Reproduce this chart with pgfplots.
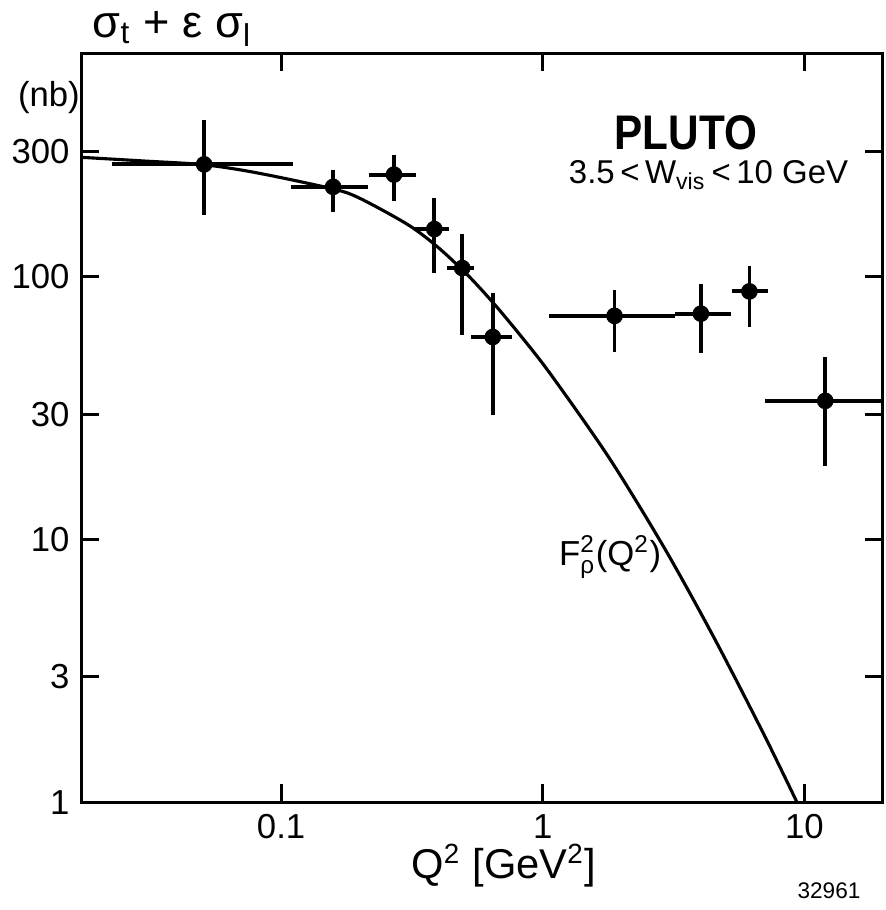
\documentclass[border=0pt]{standalone}
\usepackage{fontspec}
\setmainfont{Liberation Sans}
\usepackage{amsmath}
\usepackage{pgfplots}
\usepackage{pgfplotstable}
\pgfplotsset{compat=1.18}

% PLUTO points: Q2, sigma, and the ends of the bars
\pgfplotstableread{
x     y     xlo    xhi   ylo   yhi
0.0508 268  0.0226 0.111 172   396
0.158  220  0.109  0.215 177   255
0.270  245  0.217  0.329 195   291
0.385  152  0.321  0.438 103   200
0.492  108  0.430  0.544 60    146
0.644  59   0.530  0.764 29.8  87
1.88   71   1.06   3.21  51.9  89
4.02   72.4 3.21   5.26  51.2  93.8
6.16   88   5.29   7.25  64.3  110
12.0   33.7 7.06   25    19.1  49.6
}\pluto

% rho form factor curve
\pgfplotstableread{
x      y
0.0173 285
0.030  276
0.0508 267
0.0805 249
0.158  216
0.200  199
0.305  158
0.396  130
0.514  102
0.648  79.4
0.841  58.1
1.08   42.1
1.79   20.5
2.92   9.25
4.51   4.23
6.96   1.83
9.40   0.99
}\rhoff

\begin{document}
\begin{tikzpicture}
\begin{loglogaxis}[
  scale only axis, width=8.11cm, height=7.58cm,
  xmin=0.0173, xmax=19.9, ymin=1, ymax=708,
  xtick={0.1,1,10}, xticklabels={0.1,1,10},
  ytick={1,3,10,30,100,300}, yticklabels={1,3,10,30,100,300},
  xminorticks=false, yminorticks=false,
  tick align=inside, major tick length=0.18cm,
  axis line style={line width=0.9pt},
  every tick/.style={line width=0.8pt,black},
  tick label style={font=\fontsize{10}{12}\selectfont},
  /pgf/number format/assume math mode=true,
  clip mode=individual,
]
\addplot[line width=0.9pt, smooth, tension=0.5] table {\rhoff};
\addplot[only marks, mark=*, mark size=2.2pt,
  error bars/.cd, x dir=both, x explicit, y dir=both, y explicit,
  error mark=none, error bar style={line width=1.1pt}]
  table[x=x, y=y,
    x error plus expr=\thisrow{xhi}-\thisrow{x},
    x error minus expr=\thisrow{x}-\thisrow{xlo},
    y error plus expr=\thisrow{yhi}-\thisrow{y},
    y error minus expr=\thisrow{y}-\thisrow{ylo}] {\pluto};

\node[font=\fontsize{14}{16}\selectfont\bfseries] at (axis cs:3.52,354) {\scalebox{0.87}[1]{PLUTO}};
\node[font=\fontsize{9.5}{11}\selectfont] at (axis cs:4.30,244)
  {3.5\,<\,W\textsubscript{vis}\,<\,10 GeV};
\node[font=\fontsize{10}{12}\selectfont] at (axis cs:1.81,8.56)
  {F$^{\text{2}}_{\text{ρ}}$(Q$^{\text{2}}$)};
\node[font=\fontsize{13}{15}\selectfont] at (rel axis cs:0.113,1.033)
  {σ\textsubscript{t} + ε σ\textsubscript{l}};
\node[font=\fontsize{10}{12}\selectfont] at (rel axis cs:-0.041,0.941) {(nb)};
\node[font=\fontsize{12}{14}\selectfont] at (rel axis cs:0.527,-0.085)
  {Q\textsuperscript{2} [GeV\textsuperscript{2}]};
\node[font=\fontsize{6.5}{8}\selectfont] at (rel axis cs:0.933,-0.118) {32961};
\path (rel axis cs:-0.0900,-0.1346) rectangle (rel axis cs:1.0037,1.066);
\end{loglogaxis}
\end{tikzpicture}
\end{document}
